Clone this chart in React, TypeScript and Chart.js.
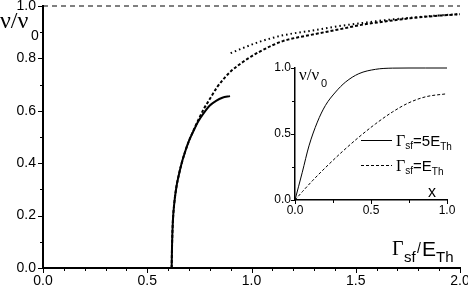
import React, { useEffect, useRef } from "react";
import { Chart, registerables } from "chart.js";
Chart.register(...registerables);

// ---- main chart data ----
const mainSolidX = [0.617, 0.619, 0.623, 0.63, 0.64, 0.65, 0.665, 0.68, 0.70, 0.72, 0.745, 0.77, 0.80, 0.83, 0.86, 0.897];
const mainSolidY = [0, 0.09, 0.18, 0.25, 0.31, 0.35, 0.40, 0.44, 0.485, 0.52, 0.56, 0.59, 0.62, 0.638, 0.65, 0.656];

const mainDashX = [0.617, 0.619, 0.623, 0.63, 0.64, 0.65, 0.665, 0.68, 0.70, 0.72, 0.745, 0.77, 0.80, 0.835, 0.87, 0.90, 0.96, 1.0, 1.04, 1.1, 1.15, 1.22, 1.28, 1.35, 1.44, 1.52, 1.64, 1.76, 1.88, 2.0];
const mainDashY = [0, 0.09, 0.18, 0.25, 0.31, 0.35, 0.40, 0.44, 0.485, 0.522, 0.565, 0.605, 0.645, 0.69, 0.725, 0.75, 0.787, 0.808, 0.826, 0.85, 0.866, 0.88, 0.889, 0.90, 0.914, 0.927, 0.941, 0.953, 0.962, 0.969];

const mainDotX = [0.90, 0.97, 1.04, 1.1, 1.15, 1.22, 1.28, 1.40, 1.52, 1.64, 1.76, 1.88, 2.0];
const mainDotY = [0.82, 0.843, 0.864, 0.878, 0.888, 0.898, 0.905, 0.921, 0.934, 0.946, 0.955, 0.963, 0.969];

const limitX = [0, 2.0];
const limitY = [1.0, 1.0];

const mainXMin = 0, mainXMax = 2.0, mainXStep = 0.1, mainXMajor = 0.5;
const mainYMin = 0, mainYMax = 1.0, mainYStep = 0.1, mainYMajor = 0.2;

// ---- inset data ----
const insetSolidX = [0, 0.048, 0.092, 0.147, 0.20, 0.267, 0.333, 0.42, 0.53, 0.64, 0.75, 0.86, 1.0];
const insetSolidY = [0, 0.21, 0.41, 0.59, 0.716, 0.818, 0.894, 0.957, 0.99, 0.999, 1.0, 1.0, 1.0];

const insetDashX = [0, 0.05, 0.114, 0.20, 0.31, 0.42, 0.53, 0.64, 0.75, 0.86, 1.0];
const insetDashY = [0, 0.065, 0.145, 0.245, 0.365, 0.476, 0.577, 0.666, 0.737, 0.782, 0.805];

const insetXMin = 0, insetXMax = 1.0, insetXStep = 0.25, insetXMajor = 0.5;
const insetYMin = 0, insetYMax = 1.0, insetYStep = 0.25, insetYMajor = 0.5;

const legendLabels = [
  [{ t: "Γ", f: "16px 'Liberation Serif'", dy: 0 }, { t: "sf", f: "10px 'Liberation Sans'", dy: 3 }, { t: "=5E", f: "15px 'Liberation Sans'", dy: 0 }, { t: "Th", f: "10px 'Liberation Sans'", dy: 4 }],
  [{ t: "Γ", f: "16px 'Liberation Serif'", dy: 0 }, { t: "sf", f: "10px 'Liberation Sans'", dy: 3 }, { t: "=E", f: "15px 'Liberation Sans'", dy: 0 }, { t: "Th", f: "10px 'Liberation Sans'", dy: 4 }],
];

const SANS = "'Liberation Sans', Arial, sans-serif";

const pts = (xs: number[], ys: number[]) => xs.map((x, i) => ({ x, y: ys[i] }));
const isMult = (v: number, m: number) => Math.abs(v / m - Math.round(v / m)) < 1e-6;

function drawRich(ctx: CanvasRenderingContext2D, segs: { t: string; f: string; dy: number }[], x: number, y: number) {
  let cx = x;
  for (const s of segs) {
    ctx.font = s.f;
    ctx.fillText(s.t, cx, y + s.dy);
    cx += ctx.measureText(s.t).width;
  }
}

function tickPlugin(xMajor: number, yMajor: number, majorLen: number, minorLen: number) {
  return {
    id: "customTicks",
    afterDraw(chart: any) {
      const ctx = chart.ctx as CanvasRenderingContext2D;
      const xs = chart.scales.x;
      const ys = chart.scales.y;
      const area = chart.chartArea;
      ctx.save();
      ctx.strokeStyle = "#000";
      ctx.lineWidth = 1;
      xs.ticks.forEach((t: any) => {
        const px = Math.round(xs.getPixelForValue(t.value)) + 0.5;
        const len = isMult(t.value, xMajor) ? majorLen : minorLen;
        ctx.beginPath();
        ctx.moveTo(px, area.bottom);
        ctx.lineTo(px, area.bottom + len);
        ctx.stroke();
      });
      ys.ticks.forEach((t: any) => {
        const py = Math.round(ys.getPixelForValue(t.value)) + 0.5;
        const len = isMult(t.value, yMajor) ? majorLen : minorLen;
        ctx.beginPath();
        ctx.moveTo(area.left, py);
        ctx.lineTo(area.left - len, py);
        ctx.stroke();
      });
      ctx.restore();
    },
  };
}

export default function App() {
  const mainRef = useRef<HTMLCanvasElement>(null);
  const insetRef = useRef<HTMLCanvasElement>(null);

  useEffect(() => {
    const mainText = {
      id: "mainText",
      afterDraw(chart: any) {
        const ctx = chart.ctx as CanvasRenderingContext2D;
        ctx.save();
        ctx.fillStyle = "#000";
        ctx.textBaseline = "alphabetic";
        ctx.textAlign = "left";
        // y title
        ctx.font = "24px 'Liberation Serif'";
        ctx.fillText("ν/ν", 0, 28);
        ctx.font = `14px ${SANS}`;
        ctx.fillText("0", 31, 40);
        // x title
        ctx.font = "20px 'Liberation Serif'";
        ctx.fillText("Γ", 392, 255);
        ctx.font = `15px ${SANS}`;
        ctx.fillText("sf", 404, 262);
        ctx.font = `14px ${SANS}`;
        ctx.fillText("/", 417, 253);
        ctx.font = `21px ${SANS}`;
        ctx.fillText("E", 422, 256);
        ctx.font = `15px ${SANS}`;
        ctx.fillText("Th", 436, 262);
        ctx.restore();
      },
    };

    const fixX = (s: any, h: number) => { s.height = h; s.paddingLeft = 0; s.paddingRight = 0; };
    const fixY = (s: any, w: number) => { s.width = w; s.paddingTop = 0; s.paddingBottom = 0; };

    const main = new Chart(mainRef.current!, {
      type: "line",
      data: {
        datasets: [
          { data: pts(limitX, limitY), borderColor: "#000", borderWidth: 1, borderDash: [5, 4], pointRadius: 0, clip: false as any },
          { data: pts(mainDotX, mainDotY), borderColor: "#000", borderWidth: 2, borderDash: [1.5, 3], pointRadius: 0, cubicInterpolationMode: "monotone" },
          { data: pts(mainDashX, mainDashY), borderColor: "#000", borderWidth: 2, borderDash: [3, 2], pointRadius: 0, cubicInterpolationMode: "monotone" },
          { data: pts(mainSolidX, mainSolidY), borderColor: "#000", borderWidth: 2, pointRadius: 0, cubicInterpolationMode: "monotone" },
        ],
      },
      options: {
        animation: false,
        responsive: false,
        devicePixelRatio: 1,
        events: [],
        layout: { padding: { top: 6, right: 8, left: 0, bottom: 0 } },
        plugins: { legend: { display: false }, tooltip: { enabled: false } },
        scales: {
          x: {
            type: "linear",
            min: mainXMin,
            max: mainXMax,
            afterFit: (s: any) => fixX(s, 21),
            grid: { display: false, drawTicks: false },
            border: { display: true, color: "#000", width: 2 },
            ticks: {
              stepSize: mainXStep,
              autoSkip: false,
              maxRotation: 0,
              padding: 5,
              color: "#000",
              font: { family: SANS, size: 14 },
              callback: (v: any) => (isMult(Number(v), mainXMajor) ? Number(v).toFixed(1) : ""),
            },
          },
          y: {
            type: "linear",
            min: mainYMin,
            max: mainYMax,
            afterFit: (s: any) => fixY(s, 43),
            grid: { display: false, drawTicks: false },
            border: { display: true, color: "#000", width: 2 },
            ticks: {
              stepSize: mainYStep,
              autoSkip: false,
              padding: 7,
              color: "#000",
              font: { family: SANS, size: 14 },
              callback: (v: any) => (isMult(Number(v), mainYMajor) ? Number(v).toFixed(1) : ""),
            },
          },
        },
      },
      plugins: [tickPlugin(mainXMajor, mainYMajor, 5, 3), mainText],
    });

    const insetText = {
      id: "insetText",
      afterDraw(chart: any) {
        const ctx = chart.ctx as CanvasRenderingContext2D;
        ctx.save();
        ctx.fillStyle = "#000";
        ctx.strokeStyle = "#000";
        ctx.textBaseline = "alphabetic";
        ctx.textAlign = "left";
        ctx.font = "17px 'Liberation Serif'";
        ctx.fillText("ν/ν", 299, 80);
        ctx.font = `11px ${SANS}`;
        ctx.fillText("0", 321, 87);
        ctx.font = `16px ${SANS}`;
        ctx.fillText("x", 428, 197);
        // legend
        ctx.lineWidth = 1;
        ctx.beginPath();
        ctx.moveTo(361, 140.5);
        ctx.lineTo(392, 140.5);
        ctx.stroke();
        ctx.setLineDash([3, 2]);
        ctx.beginPath();
        ctx.moveTo(361, 165.5);
        ctx.lineTo(392, 165.5);
        ctx.stroke();
        ctx.setLineDash([]);
        drawRich(ctx, legendLabels[0], 396, 146);
        drawRich(ctx, legendLabels[1], 396, 171);
        ctx.restore();
      },
    };

    const inset = new Chart(insetRef.current!, {
      type: "line",
      data: {
        datasets: [
          { data: pts(insetSolidX, insetSolidY), borderColor: "#000", borderWidth: 1, pointRadius: 0, cubicInterpolationMode: "monotone", clip: false as any },
          { data: pts(insetDashX, insetDashY), borderColor: "#000", borderWidth: 1, borderDash: [3, 2], pointRadius: 0, cubicInterpolationMode: "monotone" },
        ],
      },
      options: {
        animation: false,
        responsive: false,
        devicePixelRatio: 1,
        events: [],
        layout: { padding: { top: 68, right: 21, left: 265, bottom: 69 } },
        plugins: { legend: { display: false }, tooltip: { enabled: false } },
        scales: {
          x: {
            type: "linear",
            min: insetXMin,
            max: insetXMax,
            afterFit: (s: any) => fixX(s, 20),
            grid: { display: false, drawTicks: false },
            border: { display: true, color: "#000", width: 1.5 },
            ticks: {
              stepSize: insetXStep,
              autoSkip: false,
              maxRotation: 0,
              padding: 3,
              color: "#000",
              font: { family: SANS, size: 12 },
              callback: (v: any) => (isMult(Number(v), insetXMajor) ? Number(v).toFixed(1) : ""),
            },
          },
          y: {
            type: "linear",
            min: insetYMin,
            max: insetYMax,
            afterFit: (s: any) => fixY(s, 30),
            grid: { display: false, drawTicks: false },
            border: { display: true, color: "#000", width: 1.5 },
            ticks: {
              stepSize: insetYStep,
              autoSkip: false,
              padding: 4,
              color: "#000",
              font: { family: SANS, size: 12 },
              callback: (v: any) => (isMult(Number(v), insetYMajor) ? Number(v).toFixed(1) : ""),
            },
          },
        },
      },
      plugins: [tickPlugin(insetXMajor, insetYMajor, 4, 3), insetText],
    });

    return () => {
      main.destroy();
      inset.destroy();
    };
  }, []);

  return (
    <div style={{ position: "fixed", left: 0, top: 0, width: 468, height: 289, background: "#fff" }}>
      <canvas ref={mainRef} width={468} height={289} style={{ position: "absolute", left: 0, top: 0, width: 468, height: 289 }} />
      <canvas ref={insetRef} width={468} height={289} style={{ position: "absolute", left: 0, top: 0, width: 468, height: 289 }} />
    </div>
  );
}
